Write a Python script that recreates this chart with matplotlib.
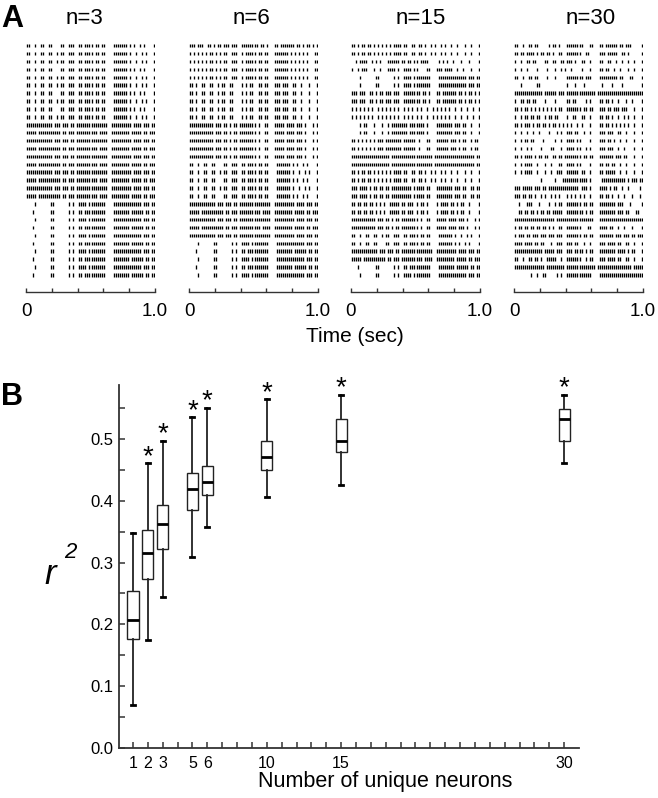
import matplotlib
matplotlib.use('Agg')
import matplotlib.pyplot as plt
import numpy as np

plt.rcParams['font.family'] = ['Liberation Sans', 'DejaVu Sans']

# ---------------- Panel A data: spike trains on a 64-bin grid over 0..1 s ----------------
# '|' = spike in that bin, '.' = no spike
TPL = {
    'A1': "||..|..| |..||... .||..||| ..||.||| |.||.||. ...||||| ||.|.|.. |.|....|",
    'A2': "||..|..| |..||..| .||..||| ..||.||| |.||.||. ...||||| ||.|..|. .|.|...|",
    'B1': "|||||||| |||||.|| |.|||.|| .||||||| |||||||| ..|||||| ||||.||| |.|||.||",
    'B2': "|||||.|| |||||||| |.||.||| .||||||| |||.|||| ..|||||| |||.|||| |.||.|||",
    'C1': "....|... ....||.. .....|.| ..||||.| |||||||. ...||||| |||||||| |.|||.||",
    'C2': "...|.... ....||.. .....|.| ..||.||| |||||||. ...||||| |||.|||| ||.||.||",
    'D1': "|||.|||. .||.|.|| .|||.||| ..|||||| ||.||.|. ..||.||| ||||.||. |.||.|.|",
    'D2': "|.|.|.|. |.||.|.| .||..||| ..|.|||| |.||.||. ..|||||| |.|.|.|. |.|...||",
    'E1': "||.|..|| ..||..|. ||..||.. ..|.|.|| ..||.||. ..|||.|| |..||..| ...|...|",
    'F1': "|||||||| ||||.||| .||.|.|| .||||||| |.|..||. ..|||||. ||||.||| .|...|.|",
    'G1': "||.|.||. ||.|.|.| .|.|.||| |.||..|| .||.|..| .|..|.|. .|..|... |..|...|",
    'H1': "..|.|||| ..|.|.|. ..|||||| .||.||.| |.||||.. ...|.|.| ..|...|. ..|....|",
    'H2': "|..|.||| ...|..|. ..||||.| ..||||.| |....||. ..|||.|| ||..|..| ...|...|",
    'I1': "|.|.|.|. |.|..|.| .|.|.|.| ..|.|.|. |.|..|.. |.|.|.|. |..|..|. .|..|..|",
    'J1': "....|.|| ...|...| ..|.|||| ||||.||| ||||.|.. ..|||||| ||.|||.| |..|...|",
    'K1': "||.|.|.| .|.|.||| .||||||| |.|||||| .|...||. ..|||||| .|||.|.| |..|.||.",
    'L1': "|||.|||| .|.||.|| .||.|||| ||||||.| ||||.||. ..|||||| ||.|||.| |..||.||",
    'M1': "||.||.|| .||.|.|. |..||||| .||.|||. |.||.|.. ..|.|||| .||.|.|| ..|....|",
    'N1': "|||||||| |||||||| |||.|||| |||||||| |||||||| .||||||| |||||||| |||||.||",
    'S1': "||..|..| |.||.... .|.||.|. ..|||||| ||...||. ..||.||| |||.||.| ||.....|",
    'S2': "||.||.|| ||.|.||. ||.|..|| ..|||||| |..||... ..|||.|| |||..||. |......|",
    'S3': "|..|..|| .||....| |..||..| |.|||.|. .||..|.. ..||..|| ..|..|.. |..|...|",
    'S4': "|..|..|. ...|.... |...|..| .|..|... .|...|.. ..||.||. .|..|... |..|...|",
    'S5': "||..|..| |.||.... |...|... ..|||||| ||.|||.. ..|||||| |||.||.. .||....|",
    'S6': "...|.... ...||... ........ ..|...|. ..|..... ...|.... |....|.. .......|",
    'S7': "|||||||| ||||||.| |||||.|| |.|||||| |||||||| .||||||| |||||||| ||||||||",
    'S8': "|..||.|| .||....| ....|... ..||.||. ...|.|.. ..||.||. |..|...| ..|....|",
    'S9': "||.|.||. |.|.|.|. |.|.|.|| ..|||||| |.||.||. ..|||.|| .|||.||| ...|...|",
    'S10': "|..|.||. ||.||..| .||.||.. ..|..||. .||..|.. ..||.||. |..|..|. |..|...|",
    'S11': "||.|.||| .|.||.|| .|.||.|. |.|.|..| .|...|.. ..||.||. |.|.|.|. |..|...|",
    'S12': "|..|..|. .|..|... .|...|.| ..|||.|| ..|..|.. ..|||.|| |..||..| ...|...|",
    'S13': "|..|.||. ||....|. ....|..| ..||||.| |....|.. ..|||.|| .|..|..| ...|...|",
    'S14': "|..|..|. |....|.. ..||...| ..||||.| |..|.|.. ..|||.|| |..|..|. ...|...|",
    'S15': "||.|.||| |.|.||.| |..||.|| .||||||| |.||.||. ..|||||| |.|||.|| ...|...|",
    'S16': "|..|.||| |..|...| ..|...|| ..||||.| |....|.. ..||.||. ||..|..| ...|...|",
    'S17': "|..|.||| |..|...| ..|..||| ..|||||| .||..|.. ..||.||| ||..|..| ...|...|",
    'S18': "........ .....|.. ....|... |||||||| ||||.|.. ...||||| |||||||. |.|||.||",
    'S19': "|||.|||| |.|||.|| .||||||| |||||||| .|||.|.. ..||||.| .||..|.. |.....|.",
    'S20': "|||.||.| |.|..|.| ..|.|.|. ..|.|.|. |.|..|.. ..||.||. |..|..|. ..|...|.",
    'S21': "..|...|| |...|... .|..|.|| ..|||||| |.||.||. ..|||||| ||.|||.. .|.....|",
    'S22': "..||.||. ||.|.||. ||.||||| ..|||||| ||.|.||. ..|||||| ||.|||.| |...||..",
    'S23': "|||||||| |||||||| ||||.||| |||||||| |||||||. ..|||||| |||||||| ||||||||",
    'S24': "|.||.||. ||.||.|| .|.|..|| ..|||||| |...||.. ..||||.| |..|..|. ..|....|",
    'S25': "|.|||.|| .|||.||| .|||.||| ..|||||| |.||.||. ..|||||| |.|||.|| |.||.|||",
    'S26': "||||.||| |.||.||. ..|..||| ..|||.|| ..|..|.. ..|||.|| ||.||..| |..|...|",
    'S27': "|||||||| ||||||.| ||||.||| ..|||.|| ||.|.||. ..|||||| ||.||||. |.||...|",
    'S28': "||..|..| |.||.|.. |||||..| ..|||||| |..|.||. ..|||.|| ||.||..| |..|...|",
    'S29': "|||||||| |||||||. |||||||| |.|||||| |||||||| .||||||| |||||||| ||.|||||",
    'S30': "........ |..|..|| .....|.| ..|||||| ||||||.. ..|||||| |||||||| ||||||||",
}

panel_titles = ['n=3', 'n=6', 'n=15', 'n=30']
rows_n3 = ['A1', 'A2', 'A2', 'A1', 'A2', 'A2', 'A1', 'A2', 'A1', 'A2',
           'B1', 'B2', 'B1', 'B2', 'B1', 'B2', 'B1', 'B2', 'B1', 'B2',
           'C1', 'C2', 'C1', 'C2', 'C1', 'C2', 'C1', 'C2', 'C1', 'C2']
rows_n6 = ['D1', 'D2', 'D2', 'D2', 'D2', 'E1', 'E1', 'E1', 'E1', 'E1',
           'F1', 'F1', 'F1', 'F1', 'F1', 'A1', 'A2', 'A1', 'A2', 'A1',
           'B1', 'B2', 'B1', 'B2', 'B1', 'C1', 'C2', 'C1', 'C2', 'C1']
rows_n15 = ['G1', 'G1', 'H1', 'H2', 'C1', 'C1', 'D1', 'D1', 'I1', 'I1',
            'J1', 'J1', 'K1', 'K1', 'N1', 'N1', 'G1', 'G1', 'L1', 'L1',
            'M1', 'M1', 'F1', 'F1', 'A2', 'A1', 'B1', 'B2', 'C2', 'C1']
rows_n30 = ['S%d' % k for k in range(1, 31)]
panel_rows = [rows_n3, rows_n6, rows_n15, rows_n30]
time_ticks = [0, 0.2, 0.4, 0.6, 0.8, 1.0]
time_ticklabels = ['0', '', '', '', '', '1.0']

# ---------------- Panel B data ----------------
n_neurons = [1, 2, 3, 5, 6, 10, 15, 30]
whislo = [0.069, 0.175, 0.244, 0.309, 0.358, 0.406, 0.426, 0.462]
q1 = [0.176, 0.274, 0.322, 0.385, 0.410, 0.450, 0.480, 0.498]
med = [0.207, 0.316, 0.363, 0.419, 0.431, 0.472, 0.498, 0.533]
q3 = [0.254, 0.353, 0.394, 0.446, 0.457, 0.497, 0.533, 0.549]
whishi = [0.348, 0.461, 0.498, 0.536, 0.551, 0.565, 0.572, 0.572]
signif = [False, True, True, True, True, True, True, True]
x_labelled = [1, 2, 3, 5, 6, 10, 15, 30]
y_major = [0.0, 0.1, 0.2, 0.3, 0.4, 0.5]
y_minor = [0.05, 0.15, 0.25, 0.35, 0.45, 0.55]


def spike_times(s):
    s = s.replace(' ', '')
    n = len(s)
    return np.array([(k + 0.5) / n for k, c in enumerate(s) if c == '|'])


W, H = 658, 798
fig = plt.figure(figsize=(W / 100, H / 100), dpi=100)
AXC = '#333333'

raster_left = [26, 189, 351, 514]
title_x = [84, 251, 421, 591]
for k in range(4):
    ax = fig.add_axes([raster_left[k] / W, 1 - 292 / H, 129 / W, (292 - 38) / H])
    rows = panel_rows[k]
    trains = [spike_times(TPL[name]) for name in rows]
    offs = [len(rows) - 1 - i for i in range(len(rows))]
    ax.eventplot(trains, lineoffsets=offs, linelengths=0.45, linewidths=0.95, colors='black')
    ax.set_xlim(0, 1)
    ax.set_ylim(-2.15, 29.97)
    for s in ['left', 'right', 'top']:
        ax.spines[s].set_visible(False)
    ax.spines['bottom'].set_color(AXC)
    ax.spines['bottom'].set_linewidth(1.0)
    ax.set_yticks([])
    ax.set_xticks(time_ticks)
    ax.set_xticklabels(time_ticklabels)
    ax.tick_params(axis='x', direction='in', length=3, width=1, color=AXC,
                   labelsize=13.5, pad=8)
    fig.text(title_x[k] / W, 1 - 18 / H, panel_titles[k], ha='center', va='center', fontsize=16)

fig.text(355 / W, 1 - 337 / H, 'Time (sec)', ha='center', va='center', fontsize=15)
fig.text(1 / W, 1 - 4 / H, 'A', ha='left', va='top', fontsize=22, fontweight='bold')
fig.text(1 / W, 1 - 382 / H, 'B', ha='left', va='top', fontsize=22, fontweight='bold')

# ---------------- Panel B ----------------
axb = fig.add_axes([119 / W, 1 - 747.7 / H, 460 / W, (747.7 - 385) / H])
stats = [dict(whislo=a, q1=b, med=c, q3=d, whishi=e, fliers=[])
         for a, b, c, d, e in zip(whislo, q1, med, q3, whishi)]
axb.bxp(stats, positions=n_neurons, widths=0.75, showfliers=False, patch_artist=True,
        boxprops=dict(facecolor='white', edgecolor='#222222', linewidth=1.0),
        medianprops=dict(color='black', linewidth=2.0),
        whiskerprops=dict(color='#222222', linewidth=1.3),
        capprops=dict(color='black', linewidth=2.0), capwidths=0.27,
        manage_ticks=False)
for x, top, sg in zip(n_neurons, whishi, signif):
    if sg:
        axb.annotate('*', xy=(x, top), xytext=(0, -0.5), textcoords='offset points',
                     ha='center', va='baseline', fontsize=20)

axb.set_xlim(0.06, 31.0)
axb.set_ylim(0, 0.588)
axb.set_xticks(list(range(1, 31)))
axb.set_xticklabels([str(v) if v in x_labelled else '' for v in range(1, 31)])
axb.set_yticks(y_major)
axb.set_yticklabels(['%.1f' % v for v in y_major])
axb.set_yticks(y_minor, minor=True)
for s in ['right', 'top']:
    axb.spines[s].set_visible(False)
for s in ['left', 'bottom']:
    axb.spines[s].set_color(AXC)
    axb.spines[s].set_linewidth(1.3)
axb.tick_params(axis='both', which='both', direction='in', length=4, width=1.1, color=AXC,
                labelsize=12)
axb.tick_params(axis='x', labelsize=11.5, pad=6)
axb.tick_params(axis='y', pad=4)

fig.text(385 / W, 1 - 781 / H, 'Number of unique neurons', ha='center', va='center', fontsize=15.5)
fig.text(50 / W, 1 - 574 / H, 'r', ha='center', va='center', fontsize=25, style='italic')
fig.text(70 / W, 1 - 553 / H, '2', ha='center', va='center', fontsize=16, style='italic')

fig.savefig('out.png', dpi=100)
